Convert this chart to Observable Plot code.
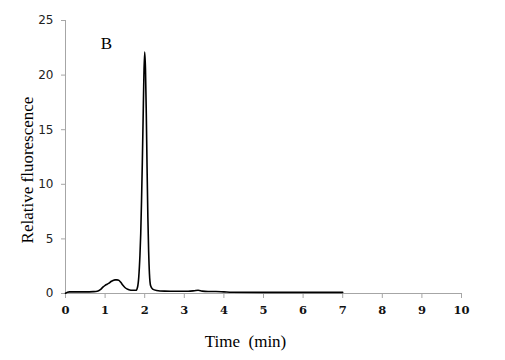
<!DOCTYPE html>
<html>
<head>
<meta charset="utf-8">
<script src="https://cdn.jsdelivr.net/npm/d3@7"></script>
<script src="https://cdn.jsdelivr.net/npm/@observablehq/plot@0.6"></script>
<style>
  html, body { margin: 0; padding: 0; background: #fff; }
</style>
</head>
<body>
<div id="chart"></div>
<script>
// Chromatogram trace (time in minutes, relative fluorescence)
const time = [0, 0.05, 0.1, 0.3, 0.5, 0.7, 0.8, 0.88, 0.95, 1.0, 1.05, 1.1, 1.15, 1.2, 1.25, 1.3, 1.35, 1.4, 1.45, 1.5, 1.55, 1.6, 1.7, 1.78, 1.82, 1.85, 1.88, 1.9, 1.92, 1.94, 1.96, 1.98, 2.0, 2.02, 2.04, 2.06, 2.08, 2.1, 2.12, 2.15, 2.2, 2.3, 2.5, 2.8, 3.1, 3.25, 3.35, 3.45, 3.6, 3.8, 4.0, 4.2, 5, 6, 7];
const fluorescence = [0.02, 0.12, 0.15, 0.15, 0.15, 0.17, 0.2, 0.35, 0.6, 0.75, 0.85, 0.95, 1.1, 1.2, 1.25, 1.25, 1.2, 1.0, 0.75, 0.55, 0.42, 0.35, 0.3, 0.3, 0.6, 1.5, 3.5, 5.5, 8.5, 12, 16, 20, 22.1, 20.5, 16.5, 11.5, 7, 3.8, 1.8, 0.7, 0.4, 0.28, 0.22, 0.2, 0.2, 0.25, 0.3, 0.22, 0.18, 0.18, 0.15, 0.12, 0.1, 0.1, 0.1];
const xTicks = [0, 1, 2, 3, 4, 5, 6, 7, 8, 9, 10];
const yTicks = [0, 5, 10, 15, 20, 25];
const xTitle = "Time\u00a0 (min)";
const yTitle = "Relative fluorescence";
const panelLabel = "B";

const data = time.map((t, i) => ({t, v: fluorescence[i]}));

const axisColor = "#a6a6a6";
const titleFont = "Liberation Serif";

const chart = Plot.plot({
  width: 505,
  height: 360,
  marginLeft: 65,
  marginRight: 44,
  marginTop: 20,
  marginBottom: 67,
  style: {background: "#fff", overflow: "visible"},
  x: {domain: [0, 10]},
  y: {domain: [0, 25]},
  marks: [
    Plot.axisY({
      ticks: yTicks, tickSize: 4, tickPadding: 8, stroke: axisColor, label: null,
      fontSize: 12, fontFamily: "DejaVu Sans", fill: "#222"
    }),
    Plot.axisX({
      ticks: xTicks, tickSize: 5, tickPadding: 7, stroke: axisColor, label: null,
      fontSize: 11.5, fontFamily: "DejaVu Serif", fontWeight: "bold", fill: "#111"
    }),
    Plot.ruleX([0], {stroke: axisColor, strokeWidth: 1}),
    Plot.ruleY([0], {stroke: axisColor, strokeWidth: 1}),
    Plot.line(data, {x: "t", y: "v", curve: "monotone-x", stroke: "#000", strokeWidth: 1.6}),
    Plot.text([panelLabel], {frameAnchor: "top-left", textAnchor: "middle", lineAnchor: "middle", dx: 41, dy: 23, fontSize: 17, fontFamily: titleFont, fill: "#000"}),
    Plot.text([xTitle], {frameAnchor: "bottom", dx: -18, dy: 53, fontSize: 17, fontFamily: titleFont, fill: "#000"}),
    Plot.text([yTitle], {frameAnchor: "left", textAnchor: "middle", rotate: -90, dx: -38, dy: 13, fontSize: 17, fontFamily: titleFont, fill: "#000"})
  ]
});

document.getElementById("chart").appendChild(chart);
</script>
</body>
</html>
